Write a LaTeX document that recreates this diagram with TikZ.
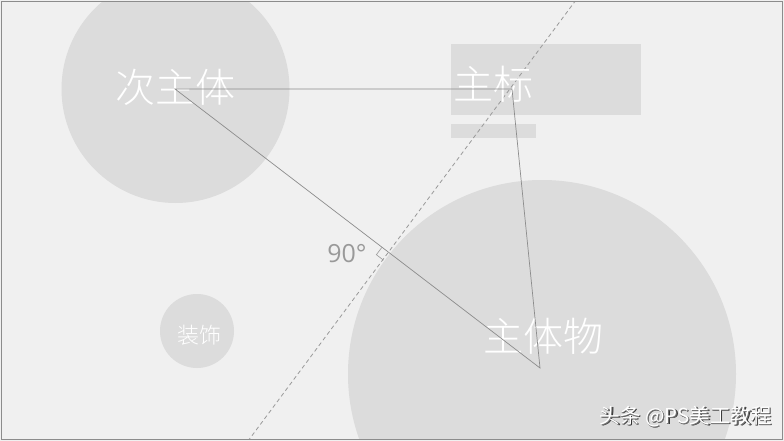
\documentclass[tikz,border=0pt]{standalone}
\usepackage{fontspec}
\newfontfamily\cjk{Noto Sans CJK SC Light}
\newfontfamily\cjkreg{Noto Sans CJK SC}
\setmainfont{Open Sans}
\newcommand\wmtext{头条 @PS美工教程}
\begin{document}
\begin{tikzpicture}[x=1pt,y=-1pt]
\definecolor{bg}{HTML}{F0F0F0}
\definecolor{shapegray}{HTML}{DCDCDC}
\definecolor{edgegray}{HTML}{8C8C8C}
\definecolor{dashgray}{HTML}{999999}
\tikzset{
  blob/.style={fill=shapegray,draw=none},
  bigtext/.style={text=white,font=\cjk\fontsize{40}{42}\selectfont,inner sep=0pt},
  tri/.style={draw=edgegray,line width=0.7pt},
  wmark/.style={font=\cjkreg\fontsize{20.5}{22}\selectfont,inner sep=0pt,anchor=east},
}
\useasboundingbox (0,0) rectangle (784,441);
\fill[bg] (0,0) rectangle (784,441);
\begin{scope}
\clip (1.5,1.5) rectangle (782.5,439.5);
\fill[blob] (175.5,89) circle (114);
\fill[blob] (542,374) circle (194);
\fill[blob] (197,331) circle (37);
\fill[blob] (451,44) rectangle (641,115);
\fill[blob] (451,124) rectangle (536,138);
\coordinate (D1) at (576,0);
\coordinate (D2) at (248,441);
\draw[dashgray,line width=0.8pt,dash pattern=on 4pt off 3pt] (D1) -- (D2);
\end{scope}
\draw[edgegray,line width=0.8pt] (1.5,1.5) rectangle (782.5,439.5);
% texts
\node[bigtext] (t1) at (175,87) {次主体};
\node[bigtext] (t2) at (493,84) {主标};
\node[bigtext] (t3) at (543,336) {主体物};
\node[text=white,font=\cjk\fontsize{22}{24}\selectfont,inner sep=0pt] (t4) at (199,335) {装饰};
\node[text=dashgray,font=\fontsize{25}{26}\selectfont,inner sep=0pt] (t5) at (347,254) {90°};
% triangle
\coordinate (A) at (175,89);
\coordinate (B) at (512,89);
\coordinate (C) at (540,368);
\draw[tri] (A) -- (B) -- (C) -- cycle;
% right angle mark
\coordinate (P) at (388.9,253);
\draw[dashgray,line width=0.6pt] (P) ++(-5.4,7.2) -- ++(-7.1,-5.5) -- ++(5.4,-7.2);
% watermark (text with a dark shadow, in one node)
\node[wmark] (w1) at (772,417) {%
  \makebox[0pt][l]{\kern1.2pt\raisebox{-1.2pt}{\textcolor{black!80}{\wmtext}}}%
  \makebox[0pt][l]{\kern0.6pt\raisebox{-1.6pt}{\textcolor{black!55}{\wmtext}}}%
  \textcolor{white}{\wmtext}};
\end{tikzpicture}
\end{document}
